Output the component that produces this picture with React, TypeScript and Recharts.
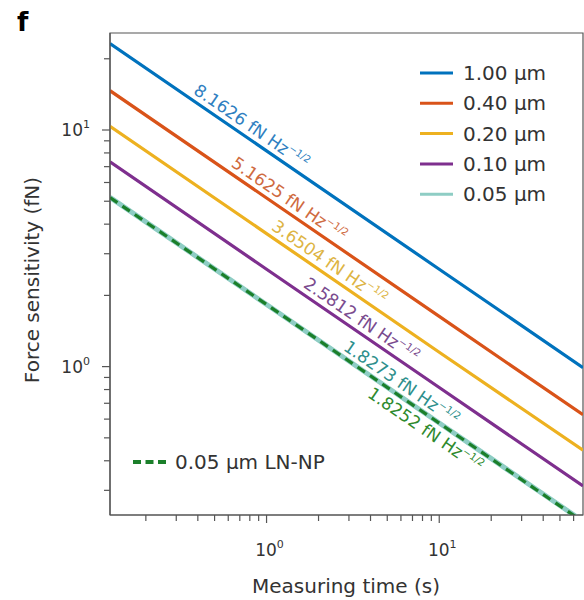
import { LineChart, Line, XAxis, YAxis, ReferenceDot, ReferenceArea } from "recharts";

// measuring time (s) at the left edge, the two decades and the right edge
const times = [0.124, 1, 10, 68];

// force sensitivity (fN)
const force100 = [23.18, 8.16, 2.58, 0.99];
const force040 = [14.66, 5.16, 1.63, 0.626];
const force020 = [10.37, 3.65, 1.15, 0.443];
const force010 = [7.33, 2.58, 0.816, 0.313];
const force005 = [5.19, 1.83, 0.578, 0.222];
const forceLN = [5.18, 1.83, 0.577, 0.221];

const seriesKeys = ["d100", "d040", "d020", "d010", "d005"];
const seriesNames = ["1.00 µm", "0.40 µm", "0.20 µm", "0.10 µm", "0.05 µm"];
const lineColors = ["#0072BD", "#D95319", "#EDB120", "#7E2F8E", "#8ECDC4"];
const lnName = "0.05 µm LN-NP";
const lnColor = "#1B7F2A";

// slope labels: coefficient, time where the label sits, colour, side
const labelCoefs = ["8.1626", "5.1625", "3.6504", "2.5812", "1.8273", "1.8252"];
const labelTimes = [0.75, 1.24, 2.12, 3.25, 5.53, 9.2];
const labelColors = ["#2F7FC1", "#CF6A40", "#DDB443", "#7A4B8E", "#2E8F8C", "#2E8A2E"];
const labelBelow = [false, false, false, false, false, true];

const xTicks = [0.2, 0.3, 0.4, 0.5, 0.6, 0.7, 0.8, 0.9, 1, 2, 3, 4, 5, 6, 7, 8, 9, 10, 20, 30, 40, 50, 60];
const yTicks = [0.3, 0.4, 0.5, 0.6, 0.7, 0.8, 0.9, 1, 2, 3, 4, 5, 6, 7, 8, 9, 10, 20];
const majorTicks = [1, 10];

const xDomain = [0.124, 68];
const yDomain = [0.236, 25.7];

const data = times.map((t, i) => ({
  t,
  d100: force100[i],
  d040: force040[i],
  d020: force020[i],
  d010: force010[i],
  d005: force005[i],
  ln: forceLN[i],
}));

const FONT = "'DejaVu Sans', sans-serif";
const AXIS = "#555";
const TXT = "#333";

function XTick(props: any) {
  const { x, y, payload } = props;
  const major = majorTicks.includes(payload.value);
  return (
    <g>
      <line x1={x} x2={x} y1={y} y2={y + (major ? 8 : 6)} stroke={AXIS} strokeWidth={1.2} />
      {major && (
        <text x={x + 3} y={y + 41} textAnchor="middle" fontSize={17} fill={TXT} fontFamily={FONT}>
          10<tspan dy={-8} fontSize={11}>{Math.round(Math.log10(payload.value))}</tspan>
        </text>
      )}
    </g>
  );
}

function YTick(props: any) {
  const { x, y, payload } = props;
  const major = majorTicks.includes(payload.value);
  return (
    <g>
      <line x1={x - (major ? 8 : 6)} x2={x} y1={y} y2={y} stroke={AXIS} strokeWidth={1.2} />
      {major && (
        <text x={x - 20} y={y + 6} textAnchor="end" fontSize={17} fill={TXT} fontFamily={FONT}>
          10<tspan dy={-8} fontSize={11}>{Math.round(Math.log10(payload.value))}</tspan>
        </text>
      )}
    </g>
  );
}

function SlopeLabel(props: any) {
  const { cx, cy, coef, color, below } = props;
  if (cx == null || cy == null) return null;
  return (
    <text
      transform={`translate(${cx},${cy}) rotate(34.4)`}
      x={0}
      y={below ? 19 : -6}
      textAnchor="middle"
      fontSize={17}
      fill={color}
      fontFamily={FONT}
    >
      {coef} fN Hz<tspan dy={-7} fontSize={10}>−1/2</tspan>
    </text>
  );
}

export default function App() {
  return (
    <div style={{ position: "absolute", left: 0, top: 0, width: 584, height: 600, background: "#fff" }}>
      <LineChart
        width={584}
        height={600}
        data={data}
        margin={{ top: 33, right: 1, bottom: 0, left: 50 }}
      >
        <XAxis
          dataKey="t"
          type="number"
          scale="log"
          domain={xDomain}
          allowDataOverflow
          ticks={xTicks}
          tick={<XTick />}
          tickLine={false}
          tickSize={0}
          tickMargin={0}
          height={85}
          axisLine={{ stroke: AXIS, strokeWidth: 1.2 }}
          interval={0}
        />
        <YAxis
          type="number"
          scale="log"
          domain={yDomain}
          allowDataOverflow
          ticks={yTicks}
          tick={<YTick />}
          tickLine={false}
          tickSize={0}
          tickMargin={0}
          width={60}
          axisLine={{ stroke: AXIS, strokeWidth: 1.2 }}
          interval={0}
        />
        <ReferenceArea
          x1={xDomain[0]}
          x2={xDomain[1]}
          y1={yDomain[0]}
          y2={yDomain[1]}
          fill="none"
          stroke={AXIS}
          strokeWidth={1.2}
          ifOverflow="visible"
        />
        {seriesKeys.map((k, i) => (
          <Line
            key={k}
            dataKey={k}
            type="linear"
            stroke={lineColors[i]}
            strokeWidth={i === 4 ? 5 : 3.2}
            dot={false}
            activeDot={false}
            isAnimationActive={false}
          />
        ))}
        <Line
          dataKey="ln"
          type="linear"
          stroke={lnColor}
          strokeWidth={3.2}
          strokeDasharray="9 6"
          dot={false}
          activeDot={false}
          isAnimationActive={false}
        />
        {labelCoefs.map((c, i) => (
          <ReferenceDot
            key={c + i}
            x={labelTimes[i]}
            y={parseFloat(labelCoefs[i]) / Math.sqrt(labelTimes[i])}
            r={0}
            ifOverflow="visible"
            shape={(p: any) => (
              <SlopeLabel cx={p.cx} cy={p.cy} coef={c} color={labelColors[i]} below={labelBelow[i]} />
            )}
          />
        ))}
      </LineChart>
      <svg
        width={584}
        height={600}
        style={{ position: "absolute", left: 0, top: 0, pointerEvents: "none" }}
        fontFamily={FONT}
      >
        <text x={17} y={31} fontSize={26} fontWeight="bold" fill="#000">f</text>
        <text x={346} y={593} textAnchor="middle" fontSize={20} fill={TXT}>Measuring time (s)</text>
        <text
          transform="translate(39,280) rotate(-90)"
          textAnchor="middle"
          fontSize={20}
          fill={TXT}
        >
          Force sensitivity (fN)
        </text>
        {seriesNames.map((n, i) => (
          <g key={n}>
            <line x1={420} x2={453} y1={73 + i * 30.3} y2={73 + i * 30.3} stroke={lineColors[i]} strokeWidth={3} />
            <text x={463} y={80 + i * 30.3} fontSize={20} fill={TXT}>{n}</text>
          </g>
        ))}
        <line x1={133} x2={166} y1={462} y2={462} stroke={lnColor} strokeWidth={4} strokeDasharray="8 4.5" />
        <text x={175} y={469} fontSize={20} fill={TXT}>{lnName}</text>
      </svg>
    </div>
  );
}
